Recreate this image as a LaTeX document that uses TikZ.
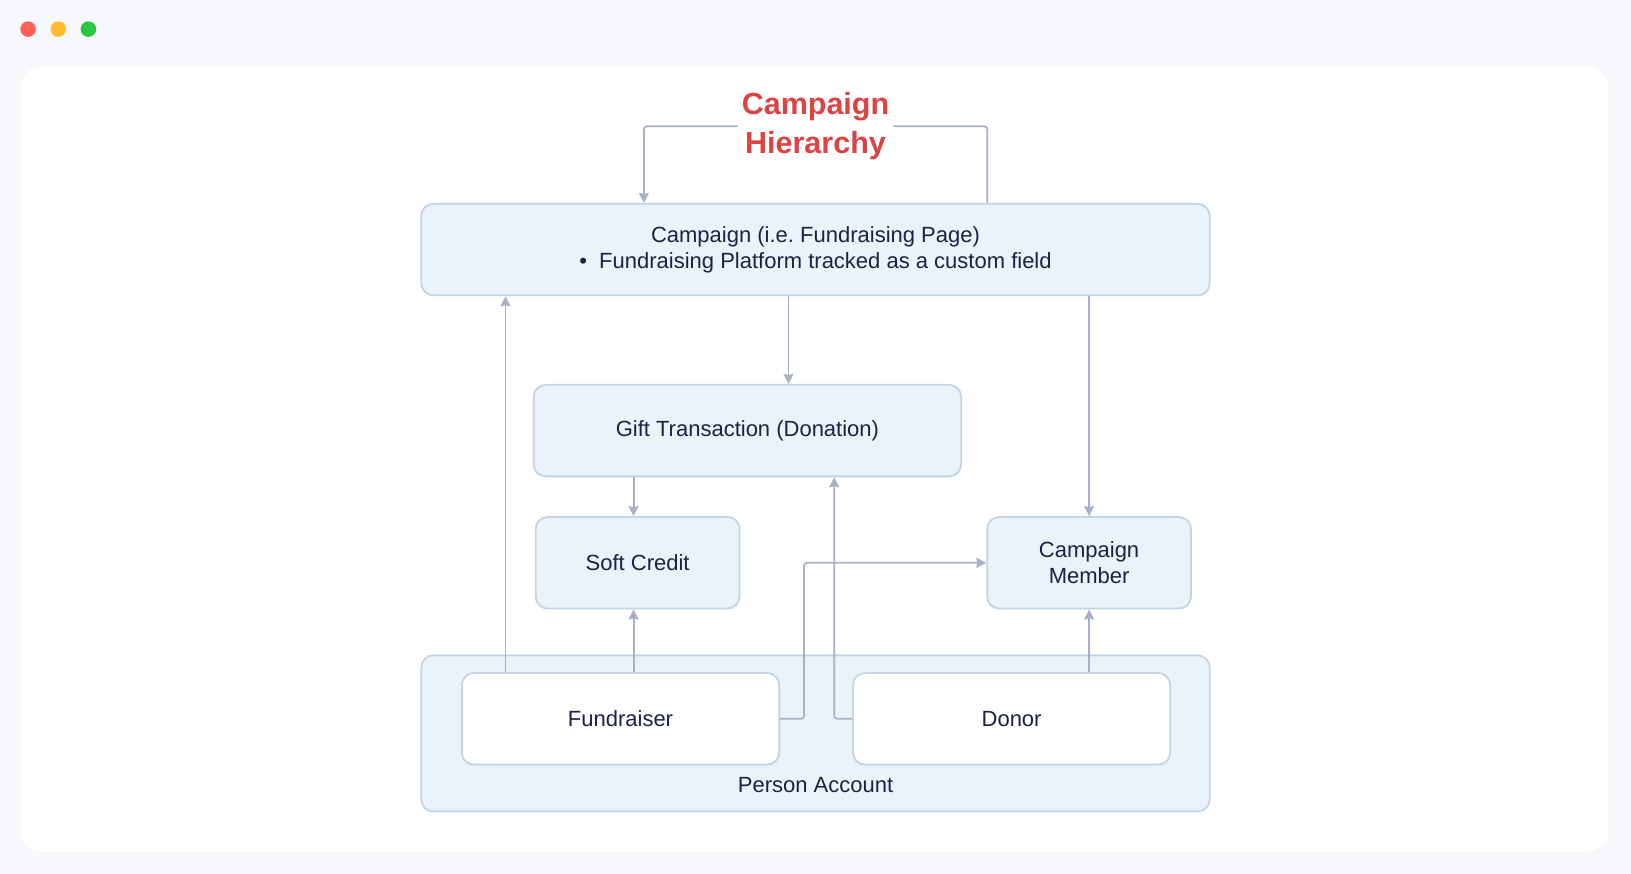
\documentclass[tikz,border=0pt]{standalone}
\usepackage{fontspec}
\setmainfont{Liberation Sans}
\usetikzlibrary{arrows.meta}

\definecolor{pagebg}{HTML}{F7F8FC}
\definecolor{boxfill}{HTML}{EBF3FA}
\definecolor{boxline}{HTML}{C3D5E4}
\definecolor{linkgray}{HTML}{A9B1C9}
\definecolor{inkblue}{HTML}{1C2145}
\definecolor{titlered}{HTML}{DC4343}
\definecolor{dotred}{HTML}{FF5F57}
\definecolor{dotyellow}{HTML}{FEBC2E}
\definecolor{dotgreen}{HTML}{28C840}

\tikzset{
  entity/.style={draw=boxline, fill=boxfill, line width=1.8pt, rounded corners=12pt,
    inner sep=0pt, align=center, text=inkblue,
    font=\fontsize{22}{26}\selectfont},
  person/.style={entity, fill=white},
  conn/.style={draw=linkgray, line width=1.8pt, rounded corners=3pt,
    -{Stealth[length=10pt,width=10pt,inset=1pt]}},
  link/.style={draw=linkgray, line width=1.8pt, rounded corners=3pt}
}

\begin{document}
\frenchspacing
\begin{tikzpicture}[x=1pt, y=-1pt]
  % window frame
  \useasboundingbox (0,0) rectangle (1631,874);
  \fill[pagebg] (0,0) rectangle (1631,874);
  \fill[white, rounded corners=21pt] (20.8,66.6) rectangle (1608.2,851.9);
  \fill[dotred] (28.1,29.1) circle (7.8);
  \fill[dotyellow] (58.3,29.1) circle (7.8);
  \fill[dotgreen] (88.4,29.1) circle (7.8);

  % title
  \node[text=titlered, font=\fontsize{30.5}{38.5}\selectfont\bfseries, align=center,
    inner xsep=4pt] (title) at (815.5,126.3) {Campaign\\Hierarchy};

  % boxes
  \node[entity, minimum width=788.4pt, minimum height=91.5pt] (camp) at (815.5,249.6)
    {Campaign (i.e. Fundraising Page)\\\textbullet\ \ Fundraising Platform tracked as a custom field};
  \node[entity, minimum width=427.5pt, minimum height=91.5pt] (gift) at (747.4,430.6)
    {Gift Transaction (Donation)};
  \node[entity, minimum width=203.9pt, minimum height=91.5pt] (soft) at (637.6,562.8)
    {Soft Credit};
  \node[entity, minimum width=203.8pt, minimum height=91.5pt] (member) at (1089.1,562.8)
    {Campaign\\Member};
  \node[entity, minimum width=788.4pt, minimum height=156.1pt] (account) at (815.5,733.4) {};
  \node[text=inkblue, font=\fontsize{22}{26}\selectfont] (acclabel) at (815.5,785.3)
    {Person Account};
  \node[person, minimum width=317.3pt, minimum height=91.5pt] (fund) at (620.5,718.8)
    {Fundraiser};
  \node[person, minimum width=317.2pt, minimum height=91.5pt] (donor) at (1011.6,718.8)
    {Donor};

  % connectors
  \draw[conn] (title.west) -| ([xshift=-171.6pt]camp.north);
  \draw[link] ([xshift=171.7pt]camp.north) |- (title.east);
  \coordinate (gt) at ([xshift=41.1pt]gift.north);
  \draw[conn] (gt |- camp.south) -- (gt);
  \draw[conn] (camp.south -| member.north) -- (member.north);
  \coordinate (fr) at ([xshift=-115pt]fund.north);
  \draw[conn] (fr) -- (fr |- camp.south);
  \coordinate (sc) at ([xshift=-4pt]soft.north);
  \draw[conn] (sc |- gift.south) -- (sc);
  \draw[conn] (sc |- fund.north) -- (sc |- soft.south);
  \draw[conn] (fund.east) -- ++(24,0) |- (member.west);
  \draw[conn] (donor.west) -| ([xshift=86.8pt]gift.south);
  \draw[conn] (donor.north -| member.south) -- (member.south);
\end{tikzpicture}
\end{document}
